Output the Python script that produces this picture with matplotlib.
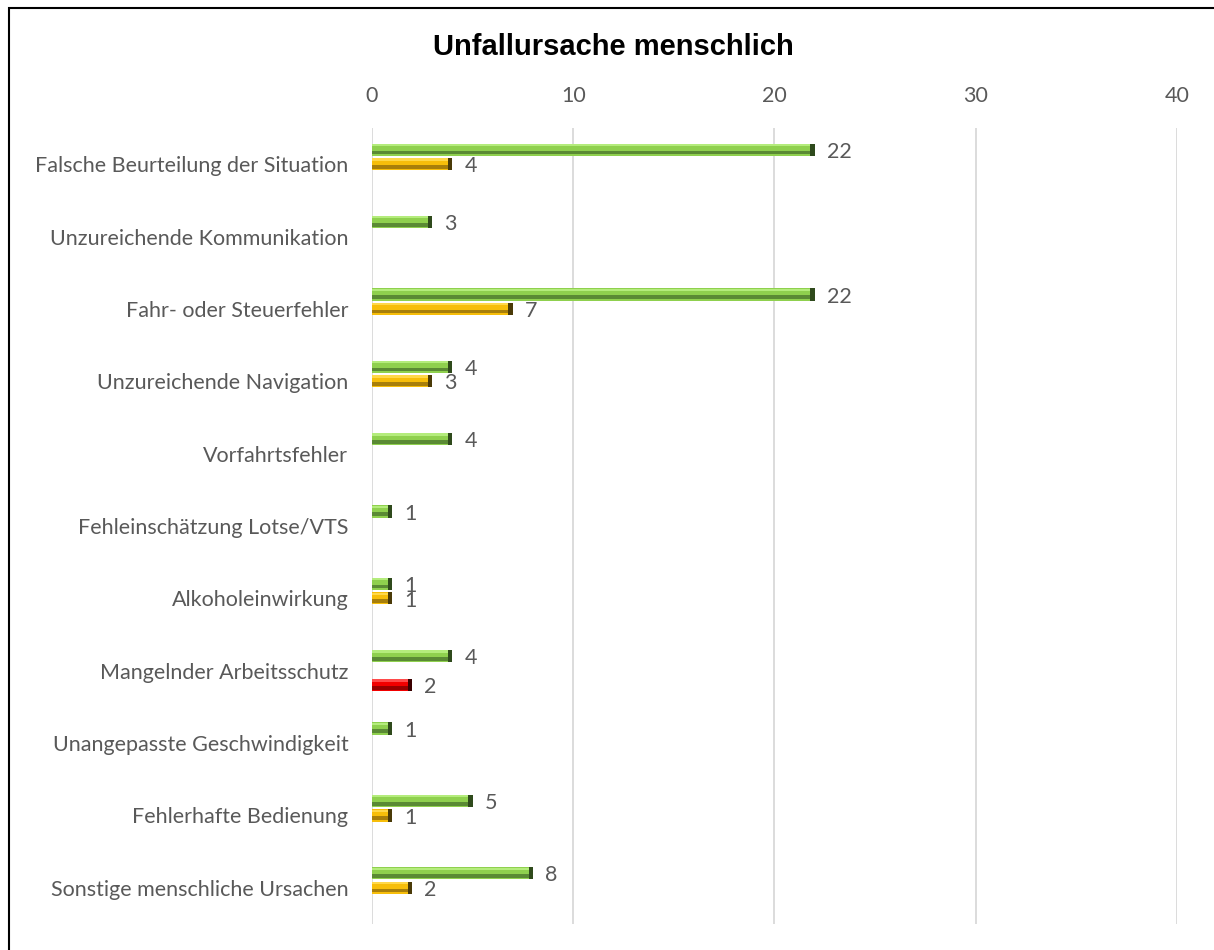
import matplotlib
matplotlib.use("Agg")
import matplotlib.pyplot as plt
from matplotlib.patches import Rectangle

categories = ["Falsche Beurteilung der Situation", "Unzureichende Kommunikation",
              "Fahr- oder Steuerfehler", "Unzureichende Navigation", "Vorfahrtsfehler",
              "Fehleinschätzung Lotse/VTS", "Alkoholeinwirkung", "Mangelnder Arbeitsschutz",
              "Unangepasste Geschwindigkeit", "Fehlerhafte Bedienung",
              "Sonstige menschliche Ursachen"]
green = [22, 3, 22, 4, 4, 1, 1, 4, 1, 5, 8]
yellow = [4, 0, 7, 3, 0, 0, 1, 0, 0, 1, 2]
red = [0, 0, 0, 0, 0, 0, 0, 2, 0, 0, 0]
xticks = [0, 10, 20, 30, 40]

# base, highlight, shadow, end cap
styles = [
    (green, -0.2, ("#8fd04e", "#b4ec7c", "#5a8a34", "#2f4a1c")),
    (yellow, 0.0, ("#f7be0a", "#ffd84a", "#a87f0a", "#4a3a08")),
    (red, 0.2, ("#f20000", "#ff4a4a", "#990000", "#3a0000")),
]
h = 0.17
txt = "#595959"

fig = plt.figure(figsize=(12.14, 9.5), dpi=100)
ax = fig.add_axes([0.3064, 0.0274, 0.6631, 0.8379])

for vals, off, (base, light, dark, cap) in styles:
    for i, v in enumerate(vals):
        if not v:
            continue
        y = i + off
        ax.barh(y, v, height=h, color=base, zorder=3)
        ax.barh(y - h * 0.38, v, height=h * 0.18, color=light, zorder=4)
        ax.barh(y + h * 0.22, v, height=h * 0.3, color=dark, zorder=4)
        ax.barh(y, 0.22, left=v - 0.22, height=h, color=cap, zorder=5)
        ax.text(v + 0.6, y + 0.03, str(v), ha="left", va="center",
                fontsize=15.5, color=txt, family="Lato")

ax.set_xlim(0, 40)
ax.set_ylim(len(categories) - 0.5, -0.5)
ax.set_xticks(xticks)
ax.xaxis.tick_top()
ax.tick_params(axis="x", length=0, pad=16, labelsize=15.5, labelcolor=txt)
ax.set_yticks(range(len(categories)))
ax.set_yticklabels(categories, fontsize=15.5, color=txt, family="Lato")
ax.tick_params(axis="y", length=0, pad=17)
for lbl in ax.get_xticklabels():
    lbl.set_family("Lato")
ax.grid(axis="x", color="#d9d9d9", linewidth=1.3, zorder=0)
for s in ax.spines.values():
    s.set_visible(False)

fig.text(0.505, 0.951, "Unfallursache menschlich", ha="center", va="center",
         fontsize=21, fontweight="bold", family="Liberation Sans")

fig.patches.append(Rectangle((9 / 1214, -0.1), 1.2, 1.1 - 8 / 950, fill=False,
                             edgecolor="black", linewidth=1.5,
                             transform=fig.transFigure, figure=fig))

fig.savefig("out.png", dpi=100)
